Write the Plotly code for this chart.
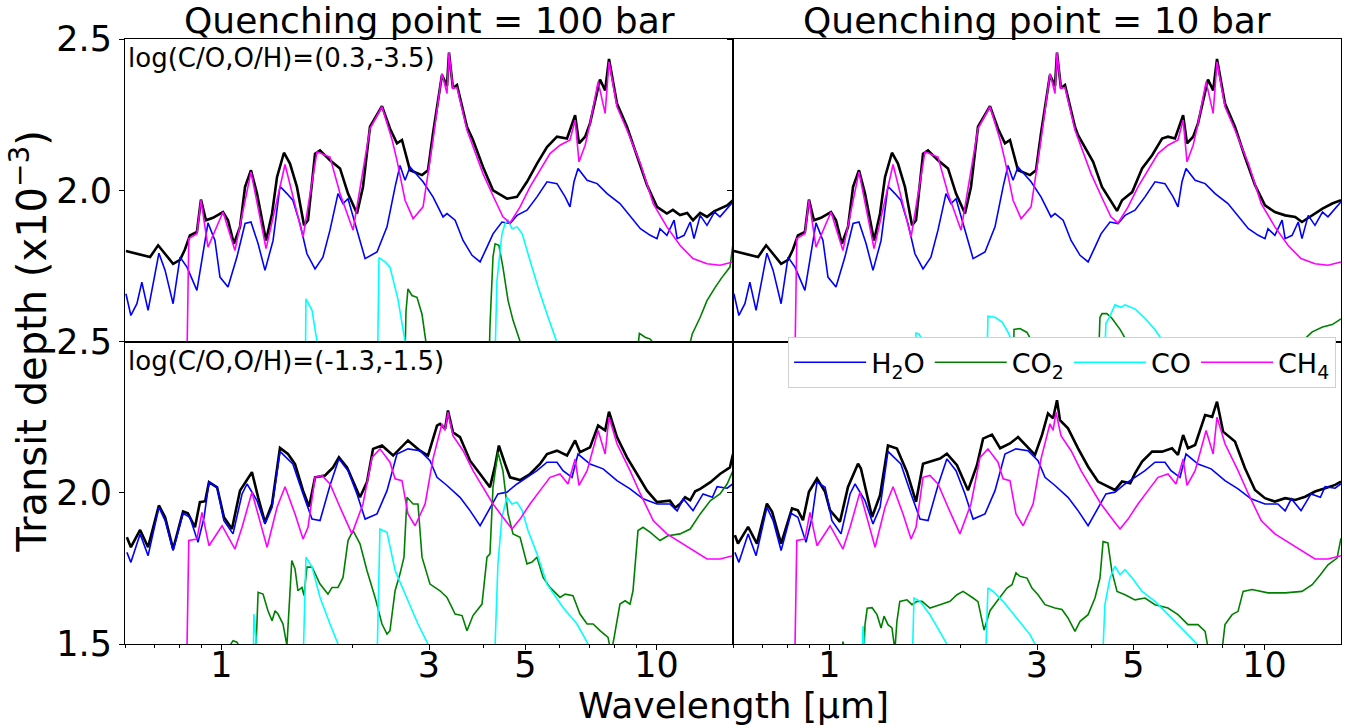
import numpy as np
import plotly.graph_objects as go

# Transmission spectra: [wavelength (micron), transit depth (1e-3)]
# Upper row: log(C/O,O/H) = (0.3,-3.5); lower row: (-1.3,-1.5)
# Left column: quenching at 100 bar; right column: quenching at 10 bar

TOP_TOTAL_100 = [
    [0.603, 1.799], [0.650, 1.788], [0.685, 1.779], [0.715, 1.818], [0.742, 1.790],
    [0.774, 1.757], [0.803, 1.770], [0.824, 1.804], [0.846, 1.851], [0.878, 1.862],
    [0.897, 1.969], [0.921, 1.901], [0.956, 1.909], [1.008, 1.928], [1.035, 1.901],
    [1.068, 1.823], [1.103, 1.879], [1.133, 2.011], [1.169, 2.066], [1.207, 1.989],
    [1.266, 1.834], [1.307, 1.923], [1.342, 2.044], [1.392, 2.124], [1.437, 2.088],
    [1.491, 2.011], [1.548, 1.884], [1.581, 1.901], [1.641, 2.121], [1.685, 2.132],
    [1.776, 2.099], [1.873, 2.072], [1.954, 1.989], [2.049, 1.923], [2.115, 2.011],
    [2.195, 2.210], [2.339, 2.278], [2.440, 2.204], [2.532, 2.155], [2.600, 2.166],
    [2.713, 2.066], [2.891, 2.050], [2.984, 2.066], [3.064, 2.188], [3.213, 2.381],
    [3.300, 2.345], [3.335, 2.455], [3.406, 2.337], [3.479, 2.348], [3.668, 2.210],
    [3.787, 2.166], [3.993, 2.077], [4.210, 2.000], [4.533, 1.972], [4.780, 1.978],
    [5.040, 2.028], [5.314, 2.088], [5.603, 2.143], [5.907, 2.177], [6.229, 2.171],
    [6.503, 2.248], [6.638, 2.155], [6.857, 2.177], [7.036, 2.221], [7.418, 2.366],
    [7.623, 2.330], [7.780, 2.434], [8.116, 2.287], [8.557, 2.210], [9.023, 2.110],
    [9.514, 2.017], [10.03, 1.945], [10.57, 1.923], [10.91, 1.935], [11.33, 1.918],
    [11.77, 1.925], [12.14, 1.901], [12.61, 1.925], [13.07, 1.912], [13.57, 1.930],
    [14.00, 1.939], [14.54, 1.950], [15.00, 1.967],
]

TOP_TOTAL_10 = [
    [0.603, 1.799], [0.650, 1.788], [0.685, 1.779], [0.715, 1.818], [0.742, 1.790],
    [0.774, 1.757], [0.803, 1.770], [0.824, 1.804], [0.846, 1.851], [0.878, 1.862],
    [0.897, 1.969], [0.921, 1.901], [0.956, 1.909], [1.008, 1.928], [1.035, 1.901],
    [1.068, 1.823], [1.103, 1.879], [1.133, 2.011], [1.169, 2.066], [1.207, 1.989],
    [1.266, 1.834], [1.307, 1.923], [1.342, 2.044], [1.392, 2.124], [1.437, 2.088],
    [1.491, 2.011], [1.548, 1.884], [1.581, 1.901], [1.641, 2.121], [1.685, 2.132],
    [1.776, 2.099], [1.873, 2.072], [1.954, 1.989], [2.049, 1.923], [2.115, 2.011],
    [2.195, 2.210], [2.339, 2.278], [2.440, 2.204], [2.532, 2.155], [2.600, 2.166],
    [2.713, 2.066], [2.891, 2.050], [2.984, 2.066], [3.064, 2.188], [3.213, 2.381],
    [3.300, 2.345], [3.335, 2.455], [3.406, 2.337], [3.479, 2.348], [3.668, 2.210],
    [3.728, 2.182], [4.038, 2.094], [4.232, 2.011], [4.460, 1.961], [4.583, 1.932],
    [4.706, 1.967], [4.966, 1.994], [5.233, 2.072], [5.518, 2.116], [5.817, 2.171],
    [6.002, 2.177], [6.229, 2.171], [6.503, 2.248], [6.638, 2.155], [6.857, 2.177],
    [7.036, 2.221], [7.418, 2.366], [7.623, 2.330], [7.780, 2.434], [8.116, 2.287],
    [8.557, 2.210], [9.023, 2.110], [9.514, 2.017], [10.03, 1.950], [10.57, 1.928],
    [11.16, 1.917], [11.77, 1.912], [12.20, 1.895], [12.88, 1.917], [13.60, 1.939],
    [14.32, 1.956], [15.00, 1.967],
]

TOP_H2O = [
    [0.603, 1.658], [0.619, 1.586], [0.639, 1.625], [0.656, 1.696], [0.678, 1.603],
    [0.700, 1.702], [0.718, 1.792], [0.742, 1.735], [0.774, 1.625], [0.803, 1.779],
    [0.833, 1.746], [0.878, 1.669], [0.907, 1.790], [0.931, 1.892], [0.966, 1.834],
    [0.992, 1.713], [1.035, 1.680], [1.085, 1.779], [1.133, 1.890], [1.169, 1.895],
    [1.214, 1.823], [1.259, 1.735], [1.314, 1.834], [1.363, 2.013], [1.414, 1.989],
    [1.459, 1.967], [1.515, 1.890], [1.572, 1.790], [1.641, 1.740], [1.711, 1.779],
    [1.776, 1.868], [1.853, 1.989], [1.903, 1.956], [1.954, 1.972], [2.049, 1.868],
    [2.139, 1.774], [2.278, 1.796], [2.402, 1.879], [2.507, 2.011], [2.573, 2.082],
    [2.643, 2.033], [2.713, 2.077], [2.907, 2.028], [3.064, 1.978], [3.231, 1.912],
    [3.300, 1.923], [3.445, 1.901], [3.593, 1.834], [3.768, 1.785], [3.932, 1.763],
    [4.078, 1.812], [4.210, 1.856], [4.414, 1.895], [4.607, 1.890], [4.780, 1.917],
    [5.040, 1.934], [5.314, 1.978], [5.603, 2.028], [5.907, 2.022], [6.168, 1.978],
    [6.328, 1.945], [6.464, 2.028], [6.603, 2.072], [6.929, 2.033], [7.306, 2.022],
    [7.702, 1.989], [8.244, 1.956], [8.834, 1.901], [9.187, 1.873], [9.679, 1.851],
    [10.03, 1.840], [10.19, 1.873], [10.57, 1.851], [10.98, 1.901], [11.16, 1.840],
    [11.58, 1.851], [11.96, 1.895], [12.20, 1.840], [12.61, 1.917], [13.07, 1.884],
    [13.60, 1.928], [14.00, 1.912], [14.54, 1.939], [15.00, 1.962],
]

TOP_CH4 = [
    [0.830, 1.300], [0.841, 1.840], [0.878, 1.856], [0.897, 1.967], [0.931, 1.812],
    [1.008, 1.928], [1.074, 1.801], [1.169, 2.061], [1.266, 1.807], [1.400, 2.085],
    [1.540, 1.845], [1.658, 2.127], [1.776, 2.110], [1.873, 1.989], [2.007, 1.868],
    [2.195, 2.204], [2.339, 2.276], [2.468, 2.166], [2.532, 2.099], [2.643, 1.967],
    [2.758, 1.906], [2.907, 1.945], [3.064, 2.166], [3.213, 2.386], [3.300, 2.320],
    [3.335, 2.455], [3.406, 2.337], [3.479, 2.340], [3.668, 2.199], [3.993, 2.055],
    [4.257, 1.967], [4.437, 1.912], [4.607, 1.892], [4.859, 1.945], [5.121, 2.011],
    [5.399, 2.066], [5.693, 2.121], [6.002, 2.149], [6.328, 2.166], [6.503, 2.232],
    [6.638, 2.094], [6.857, 2.149], [7.036, 2.220], [7.344, 2.359], [7.623, 2.254],
    [7.780, 2.425], [8.116, 2.276], [8.557, 2.199], [9.187, 2.088], [9.833, 1.956],
    [10.57, 1.879], [11.33, 1.818], [12.14, 1.774], [13.07, 1.757], [14.00, 1.752],
    [15.00, 1.763],
]

TOP_CO2_100 = [
    [2.628, 1.30], [2.656, 1.60], [2.684, 1.674], [2.741, 1.652], [2.815, 1.646],
    [2.891, 1.590], [2.984, 1.45], [3.098, 1.30], [4.100, 1.30], [4.143, 1.55],
    [4.210, 1.780], [4.257, 1.823], [4.343, 1.818], [4.437, 1.746], [4.558, 1.636],
    [4.681, 1.570], [4.859, 1.500], [5.067, 1.42], [8.975, 1.42], [9.138, 1.527],
    [9.421, 1.514], [9.679, 1.508], [10.03, 1.48], [10.74, 1.40], [11.84, 1.47],
    [12.09, 1.525], [12.61, 1.580], [13.07, 1.635], [13.65, 1.679], [14.15, 1.712],
    [14.76, 1.746], [15.00, 1.823],
]

TOP_CO_100 = [
    [1.556, 1.30], [1.564, 1.641], [1.615, 1.603], [1.658, 1.50], [1.685, 1.40],
    [2.278, 1.30], [2.302, 1.777], [2.378, 1.763], [2.440, 1.746], [2.545, 1.640],
    [2.643, 1.50], [2.713, 1.40], [4.232, 1.30], [4.298, 1.700], [4.414, 1.856],
    [4.489, 1.890], [4.558, 1.901], [4.656, 1.873], [4.780, 1.879], [4.914, 1.856],
    [5.067, 1.790], [5.342, 1.680], [5.633, 1.581], [5.907, 1.500], [6.168, 1.42],
]

TOP_CO2_10 = [
    [2.643, 1.30], [2.656, 1.540], [2.741, 1.543], [2.845, 1.530], [2.921, 1.50],
    [2.984, 1.40], [4.121, 1.30], [4.187, 1.580], [4.232, 1.592], [4.343, 1.592],
    [4.460, 1.577], [4.656, 1.540], [4.833, 1.50], [4.966, 1.42], [11.96, 1.45],
    [12.20, 1.50], [12.88, 1.532], [13.60, 1.548], [14.32, 1.556], [15.00, 1.575],
]

TOP_CO_10 = [
    [1.564, 1.30], [1.581, 1.528], [1.606, 1.525], [1.641, 1.50], [1.667, 1.45],
    [2.290, 1.30], [2.314, 1.584], [2.402, 1.580], [2.494, 1.564], [2.573, 1.531],
    [2.628, 1.50], [2.670, 1.42], [4.257, 1.30], [4.321, 1.560], [4.391, 1.577],
    [4.533, 1.621], [4.681, 1.613], [4.780, 1.621], [5.040, 1.608], [5.314, 1.577],
    [5.603, 1.539], [5.849, 1.500], [6.066, 1.45],
]

BOT_TOTAL_100 = [
    [0.606, 1.853], [0.619, 1.820], [0.650, 1.877], [0.678, 1.820], [0.718, 1.958],
    [0.742, 1.919], [0.774, 1.814], [0.816, 1.938], [0.837, 1.932], [0.869, 1.886],
    [0.892, 1.969], [0.917, 1.972], [0.936, 2.035], [0.977, 2.018], [1.013, 1.919],
    [1.057, 1.880], [1.103, 2.007], [1.151, 2.051], [1.175, 2.068], [1.214, 1.985],
    [1.259, 1.902], [1.307, 1.963], [1.363, 2.148], [1.422, 2.128], [1.476, 2.095],
    [1.540, 2.007], [1.590, 1.954], [1.641, 2.051], [1.730, 2.057], [1.805, 2.084],
    [1.862, 2.117], [1.944, 2.084], [2.007, 2.040], [2.082, 1.985], [2.160, 2.035],
    [2.231, 2.145], [2.339, 2.156], [2.481, 2.123], [2.684, 2.173], [2.860, 2.139],
    [2.984, 2.123], [3.130, 2.222], [3.180, 2.228], [3.267, 2.211], [3.317, 2.272],
    [3.406, 2.200], [3.535, 2.184], [3.728, 2.106], [3.932, 2.062], [4.143, 2.018],
    [4.257, 2.090], [4.343, 2.156], [4.489, 2.095], [4.607, 2.051], [4.859, 2.042],
    [5.121, 2.062], [5.399, 2.095], [5.603, 2.128], [5.907, 2.139], [6.229, 2.123],
    [6.503, 2.173], [6.672, 2.134], [7.036, 2.150], [7.344, 2.222], [7.623, 2.206],
    [7.780, 2.268], [8.116, 2.184], [8.557, 2.117], [9.023, 2.062], [9.514, 2.007],
    [10.03, 1.969], [10.74, 1.974], [11.04, 1.950], [11.33, 1.963], [11.64, 1.985],
    [11.96, 1.975], [12.28, 2.005], [12.61, 2.013], [13.31, 2.035], [14.00, 2.062],
    [14.76, 2.084], [15.00, 2.128],
]

BOT_TOTAL_10 = [
    [0.606, 1.860], [0.616, 1.832], [0.650, 1.887], [0.681, 1.832], [0.718, 1.964],
    [0.738, 1.937], [0.774, 1.832], [0.820, 1.948], [0.846, 1.942], [0.869, 1.909],
    [0.897, 2.003], [0.936, 2.047], [0.977, 2.003], [1.003, 1.942], [1.057, 1.904],
    [1.103, 2.019], [1.163, 2.096], [1.181, 2.080], [1.253, 1.920], [1.307, 1.992],
    [1.363, 2.156], [1.429, 2.146], [1.507, 2.069], [1.581, 1.970], [1.641, 2.096],
    [1.702, 2.102], [1.795, 2.113], [1.862, 2.129], [1.964, 2.091], [2.082, 2.008],
    [2.183, 2.091], [2.255, 2.179], [2.364, 2.192], [2.468, 2.147], [2.600, 2.163],
    [2.713, 2.184], [2.845, 2.153], [2.968, 2.125], [3.081, 2.191], [3.180, 2.262],
    [3.267, 2.246], [3.335, 2.306], [3.388, 2.240], [3.535, 2.213], [3.728, 2.147],
    [3.932, 2.086], [4.143, 2.037], [4.298, 2.026], [4.533, 2.009], [4.706, 2.037],
    [4.914, 2.031], [5.040, 2.064], [5.233, 2.103], [5.518, 2.136], [5.817, 2.136],
    [6.131, 2.147], [6.328, 2.125], [6.503, 2.191], [6.672, 2.147], [6.929, 2.158],
    [7.306, 2.257], [7.583, 2.251], [7.780, 2.301], [8.037, 2.202], [8.557, 2.169],
    [9.023, 2.081], [9.514, 2.009], [10.03, 1.982], [10.57, 1.971], [11.16, 1.982],
    [11.77, 1.976], [12.41, 1.987], [13.07, 2.004], [13.79, 2.015], [14.54, 2.026],
    [15.00, 2.037],
]

BOT_H2O = [
    [0.606, 1.803], [0.619, 1.770], [0.650, 1.864], [0.678, 1.792], [0.718, 1.952],
    [0.742, 1.908], [0.774, 1.809], [0.816, 1.932], [0.846, 1.919], [0.883, 1.836],
    [0.912, 1.919], [0.936, 2.035], [0.977, 2.018], [1.013, 1.908], [1.063, 1.864],
    [1.115, 1.996], [1.145, 2.029], [1.207, 1.974], [1.259, 1.897], [1.307, 1.952],
    [1.363, 2.137], [1.459, 2.095], [1.540, 1.996], [1.615, 1.913], [1.685, 1.908],
    [1.776, 2.024], [1.862, 2.112], [1.954, 2.073], [2.049, 1.996], [2.139, 1.913],
    [2.278, 1.930], [2.402, 2.007], [2.532, 2.128], [2.684, 2.145], [2.860, 2.139],
    [3.016, 2.106], [3.130, 2.051], [3.300, 2.024], [3.535, 1.985], [3.728, 1.941],
    [3.932, 1.891], [4.143, 1.952], [4.321, 1.996], [4.533, 2.002], [4.780, 2.029],
    [5.040, 2.051], [5.314, 2.073], [5.603, 2.101], [5.907, 2.101], [6.098, 2.073],
    [6.396, 2.051], [6.603, 2.128], [7.036, 2.095], [7.542, 2.079], [8.116, 2.040],
    [8.697, 2.013], [9.317, 1.980], [10.03, 1.963], [10.74, 1.963], [11.16, 1.940],
    [11.53, 1.980], [12.14, 1.941], [12.80, 1.996], [13.45, 1.985], [13.79, 2.020],
    [14.54, 2.015], [15.00, 2.030],
]

BOT_CH4 = [
    [0.829, 1.300], [0.841, 1.842], [0.878, 1.847], [0.902, 1.935], [0.936, 1.825],
    [1.003, 1.891], [1.074, 1.814], [1.115, 1.886], [1.175, 2.002], [1.273, 1.820],
    [1.342, 1.952], [1.400, 2.020], [1.476, 1.930], [1.540, 1.847], [1.581, 1.886],
    [1.641, 2.051], [1.702, 2.057], [1.776, 2.029], [1.873, 1.952], [1.995, 1.864],
    [2.115, 1.963], [2.219, 2.117], [2.314, 2.145], [2.440, 2.101], [2.507, 2.046],
    [2.600, 2.040], [2.684, 1.930], [2.787, 1.891], [2.939, 1.963], [3.064, 2.112],
    [3.213, 2.228], [3.267, 2.206], [3.317, 2.266], [3.406, 2.189], [3.593, 2.139],
    [3.787, 2.073], [3.993, 2.018], [4.210, 1.963], [4.437, 1.919], [4.656, 1.880],
    [4.859, 1.913], [5.121, 1.963], [5.399, 2.007], [5.693, 2.051], [6.002, 2.062],
    [6.262, 2.029], [6.503, 2.112], [6.638, 2.024], [6.929, 2.073], [7.344, 2.206],
    [7.623, 2.128], [7.780, 2.250], [8.116, 2.162], [8.697, 2.073], [9.187, 1.996],
    [9.833, 1.908], [10.57, 1.864], [11.33, 1.836], [12.14, 1.809], [13.07, 1.781],
    [14.00, 1.781], [15.00, 1.792],
]

BOT_CO2_100 = [
    [1.040, 1.40], [1.051, 1.500], [1.063, 1.511], [1.085, 1.506], [1.103, 1.490],
    [1.121, 1.40], [1.194, 1.40], [1.207, 1.55], [1.214, 1.671], [1.246, 1.665],
    [1.279, 1.610], [1.307, 1.577], [1.328, 1.610], [1.349, 1.599], [1.385, 1.566],
    [1.414, 1.495], [1.429, 1.60], [1.451, 1.776], [1.476, 1.748], [1.499, 1.676],
    [1.531, 1.687], [1.548, 1.660], [1.572, 1.754], [1.615, 1.754], [1.685, 1.698],
    [1.757, 1.665], [1.795, 1.687], [1.853, 1.687], [1.903, 1.720], [1.954, 1.842],
    [2.007, 1.875], [2.082, 1.831], [2.160, 1.743], [2.255, 1.654], [2.339, 1.566],
    [2.402, 1.533], [2.440, 1.544], [2.507, 1.676], [2.573, 1.732], [2.628, 1.787],
    [2.670, 1.985], [2.758, 1.963], [2.830, 1.963], [2.891, 1.787], [3.016, 1.698],
    [3.180, 1.676], [3.300, 1.654], [3.445, 1.599], [3.574, 1.594], [3.668, 1.544],
    [3.787, 1.594], [3.972, 1.632], [4.078, 1.787], [4.143, 1.798], [4.210, 2.018],
    [4.321, 2.134], [4.437, 2.073], [4.558, 1.930], [4.681, 1.864], [4.859, 1.853],
    [5.040, 1.765], [5.176, 1.771], [5.314, 1.787], [5.488, 1.720], [5.693, 1.687],
    [6.002, 1.654], [6.168, 1.665], [6.430, 1.660], [6.672, 1.599], [6.929, 1.566],
    [7.153, 1.566], [7.418, 1.544], [7.741, 1.522], [7.866, 1.470], [7.991, 1.520],
    [8.244, 1.632], [8.474, 1.643], [8.697, 1.632], [8.834, 1.676], [9.071, 1.875],
    [9.317, 1.886], [9.679, 1.869], [10.19, 1.842], [10.63, 1.858], [11.33, 1.864],
    [11.96, 1.880], [12.61, 1.930], [13.31, 1.974], [14.00, 1.996], [14.54, 2.029],
    [15.00, 2.073],
]

BOT_CO_100 = [
    [1.181, 1.30], [1.187, 1.599], [1.200, 1.52], [1.207, 1.40], [1.531, 1.30],
    [1.564, 1.787], [1.615, 1.754], [1.685, 1.654], [1.776, 1.566], [1.853, 1.500],
    [1.893, 1.45], [2.267, 1.30], [2.314, 1.880], [2.402, 1.869], [2.507, 1.743],
    [2.670, 1.654], [2.830, 1.566], [2.984, 1.500], [3.064, 1.45], [4.210, 1.30],
    [4.321, 1.765], [4.414, 1.919], [4.533, 1.985], [4.656, 1.963], [4.780, 1.969],
    [4.914, 1.941], [5.067, 1.875], [5.314, 1.798], [5.603, 1.698], [6.098, 1.621],
    [6.567, 1.566], [6.964, 1.500], [7.230, 1.45],
]

BOT_CO2_10 = [
    [1.057, 1.40], [1.074, 1.508], [1.097, 1.45], [1.194, 1.40], [1.207, 1.564],
    [1.221, 1.618], [1.253, 1.620], [1.286, 1.597], [1.314, 1.553], [1.335, 1.592],
    [1.363, 1.564], [1.392, 1.553], [1.414, 1.48], [1.429, 1.575], [1.451, 1.641],
    [1.507, 1.646], [1.548, 1.630], [1.590, 1.641], [1.632, 1.641], [1.702, 1.619],
    [1.795, 1.630], [1.893, 1.641], [1.964, 1.663], [2.028, 1.674], [2.139, 1.652],
    [2.195, 1.640], [2.267, 1.546], [2.339, 1.610], [2.427, 1.641], [2.494, 1.663],
    [2.559, 1.685], [2.628, 1.696], [2.684, 1.735], [2.741, 1.724], [2.845, 1.718],
    [2.921, 1.685], [3.016, 1.663], [3.130, 1.630], [3.300, 1.619], [3.424, 1.614],
    [3.535, 1.586], [3.668, 1.542], [3.768, 1.575], [3.932, 1.597], [4.078, 1.652],
    [4.187, 1.718], [4.257, 1.839], [4.366, 1.834], [4.460, 1.740], [4.583, 1.674],
    [4.780, 1.663], [5.040, 1.646], [5.314, 1.652], [5.603, 1.630], [6.002, 1.619],
    [6.328, 1.597], [6.672, 1.564], [7.036, 1.564], [7.306, 1.542], [7.498, 1.45],
    [7.821, 1.40], [7.991, 1.48], [8.116, 1.564], [8.428, 1.597], [8.697, 1.608],
    [8.935, 1.674], [9.367, 1.680], [10.19, 1.669], [11.16, 1.669], [12.20, 1.674],
    [12.88, 1.696], [13.45, 1.729], [14.00, 1.762], [14.69, 1.784], [15.00, 1.850],
]

BOT_CO_10 = [
    [1.187, 1.40], [1.194, 1.559], [1.207, 1.45], [1.548, 1.40], [1.564, 1.652],
    [1.615, 1.641], [1.702, 1.597], [1.795, 1.542], [1.862, 1.500], [1.913, 1.45],
    [2.278, 1.40], [2.314, 1.685], [2.378, 1.674], [2.507, 1.641], [2.698, 1.586],
    [2.891, 1.531], [2.968, 1.500], [3.048, 1.45], [4.232, 1.40], [4.298, 1.630],
    [4.414, 1.718], [4.533, 1.757], [4.656, 1.729], [4.780, 1.746], [4.966, 1.718],
    [5.233, 1.674], [5.603, 1.641], [6.002, 1.597], [6.464, 1.553], [6.996, 1.500],
    [7.230, 1.45],
]

FONT = "DejaVu Sans"
SPECIES = [
    ("H<sub>2</sub>O", "blue"),
    ("CO<sub>2</sub>", "green"),
    ("CO", "cyan"),
    ("CH<sub>4</sub>", "magenta"),
]
PANELS = [
    ("x", "y", TOP_TOTAL_100, [TOP_H2O, TOP_CO2_100, TOP_CO_100, TOP_CH4], False),
    ("x2", "y2", TOP_TOTAL_10, [TOP_H2O, TOP_CO2_10, TOP_CO_10, TOP_CH4], False),
    ("x3", "y3", BOT_TOTAL_100, [BOT_H2O, BOT_CO2_100, BOT_CO_100, BOT_CH4], False),
    ("x4", "y4", BOT_TOTAL_10, [BOT_H2O, BOT_CO2_10, BOT_CO_10, BOT_CH4], True),
]


def unzip(pairs):
    return [p[0] for p in pairs], [p[1] for p in pairs]


fig = go.Figure()
for xa, ya, total, parts, in_legend in PANELS:
    wl, td = unzip(total)
    fig.add_trace(go.Scatter(x=wl, y=td, mode="lines", name="Total",
                             line=dict(color="black", width=2.6),
                             xaxis=xa, yaxis=ya, showlegend=False))
    for (name, color), series in zip(SPECIES, parts):
        wl, td = unzip(series)
        fig.add_trace(go.Scatter(x=wl, y=td, mode="lines", name=name,
                                 line=dict(color=color, width=1.6),
                                 xaxis=xa, yaxis=ya, showlegend=in_legend))

XRANGE = [np.log10(0.6), np.log10(15.0)]
frame = dict(showline=True, linecolor="black", linewidth=1, mirror=True,
             showgrid=False, zeroline=False)
tickfont = dict(family=FONT, size=35, color="black")


def make_xaxis(domain, anchor, labelled):
    ax = dict(domain=domain, anchor=anchor, type="log", range=XRANGE, **frame)
    if labelled:
        ax.update(tickmode="array", tickvals=[1, 3, 5, 10], ticktext=["1", "3", "5", "10"],
                  ticks="outside", ticklen=5, tickwidth=1, tickcolor="black",
                  tickfont=tickfont, ticklabelstandoff=-15,
                  minor=dict(tickmode="array",
                             tickvals=[0.6, 0.7, 0.8, 0.9, 2, 4, 6, 7, 8, 9],
                             ticks="outside", ticklen=3, tickwidth=1,
                             tickcolor="black"))
    else:
        ax.update(showticklabels=False, ticks="")
    return ax


def make_yaxis(domain, anchor, tickvals, labelled):
    return dict(domain=domain, anchor=anchor, range=[1.5, 2.5],
                tickmode="array", tickvals=tickvals,
                ticktext=[f"{v:.1f}" for v in tickvals],
                ticks="outside", ticklen=5, tickwidth=1, tickcolor="black",
                showticklabels=labelled, tickfont=tickfont, **frame)


fig.update_layout(
    width=1353, height=728,
    margin=dict(l=125, r=12, t=39, b=84),
    paper_bgcolor="white", plot_bgcolor="white",
    font=dict(family=FONT, color="black"),
    xaxis=make_xaxis([0, 0.5], "y", False),
    xaxis2=make_xaxis([0.5, 1], "y2", False),
    xaxis3=make_xaxis([0, 0.5], "y3", True),
    xaxis4=make_xaxis([0.5, 1], "y4", True),
    yaxis=make_yaxis([0.5, 1], "x", [2.0, 2.5], True),
    yaxis2=make_yaxis([0.5, 1], "x2", [1.5, 2.0, 2.5], False),
    yaxis3=make_yaxis([0, 0.5], "x3", [1.5, 2.0, 2.5], True),
    yaxis4=make_yaxis([0, 0.5], "x4", [1.5, 2.0, 2.5], False),
    legend=dict(orientation="h", x=0.996, xanchor="right", y=0.507, yanchor="top",
                bgcolor="white", bordercolor="#d0d0d0", borderwidth=1,
                font=dict(family=FONT, size=27, color="black"),
                itemwidth=72, traceorder="normal"),
)

annotations = [
    dict(text="Quenching point = 100 bar", x=0.25, y=1, xref="paper", yref="paper",
         xanchor="center", yanchor="middle", yshift=19, showarrow=False,
         font=dict(size=36)),
    dict(text="Quenching point = 10 bar", x=0.75, y=1, xref="paper", yref="paper",
         xanchor="center", yanchor="middle", yshift=19, showarrow=False,
         font=dict(size=36)),
    dict(text="log(C/O,O/H)=(0.3,-3.5)", x=0, y=1, xref="paper", yref="paper",
         xanchor="left", yanchor="top", xshift=1, yshift=-2, showarrow=False,
         font=dict(size=26)),
    dict(text="log(C/O,O/H)=(-1.3,-1.5)", x=0, y=0.5, xref="paper", yref="paper",
         xanchor="left", yanchor="top", xshift=1, yshift=-2, showarrow=False,
         font=dict(size=26)),
    dict(text="Wavelength [µm]", x=0.5, y=0, xref="paper", yref="paper",
         xanchor="center", yanchor="middle", yshift=-61, showarrow=False,
         font=dict(size=36)),
    dict(text="Transit depth (x10<sup>−3</sup>)", x=0, y=0.5, xref="paper", yref="paper",
         xanchor="center", yanchor="middle", xshift=-96, textangle=-90, showarrow=False,
         font=dict(size=40)),
]
fig.update_layout(annotations=annotations)

fig.write_html("out.html")
